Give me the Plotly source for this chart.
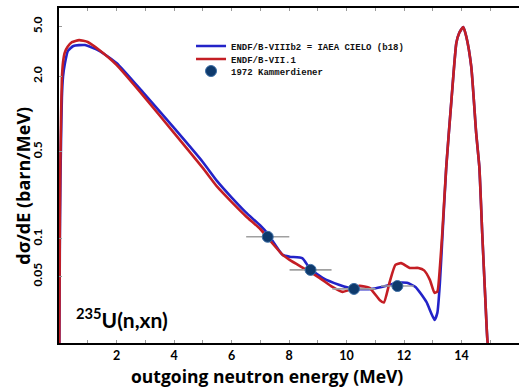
import plotly.graph_objects as go

# ENDF/B-VII.1 (red)
e_red = [0.01, 0.03, 0.05, 0.07, 0.1, 0.14, 0.2, 0.3, 0.45, 0.7, 1.0, 1.4, 2.0, 3.0, 4.0, 5.0, 5.5,
         6.0, 6.5, 7.0, 7.26, 7.78, 8.02, 8.61, 9.06, 9.51, 9.86, 10.1, 10.45, 10.8, 11.15, 11.3, 11.5,
         11.7, 11.9, 12.2, 12.5, 12.7, 12.9, 13.06, 13.16, 13.25, 13.33, 13.47, 13.65, 13.82, 13.92,
         14.06, 14.17, 14.34, 14.51, 14.62, 14.72, 14.83, 14.9, 15.0]
v_red = [0.012, 0.15, 0.45, 0.9, 1.9, 2.6, 3.1, 3.45, 3.75, 3.9, 3.77, 3.25, 2.47, 1.34, 0.705, 0.37,
         0.262, 0.198, 0.152, 0.12, 0.102, 0.0745, 0.068, 0.0565, 0.0488, 0.0413, 0.0377, 0.0391,
         0.0421, 0.0406, 0.0325, 0.031, 0.045, 0.062, 0.064, 0.0586, 0.0586, 0.056, 0.047, 0.037,
         0.038, 0.06, 0.11, 0.377, 1.29, 3.70, 4.45, 4.97, 4.13, 2.38, 0.705, 0.377, 0.112, 0.0325,
         0.0156, 0.01]

# ENDF/B-VIIIb2 = IAEA CIELO (blue)
e_blue = [0.01, 0.03, 0.05, 0.07, 0.1, 0.14, 0.2, 0.31, 0.5, 0.9, 1.4, 2.0, 3.0, 4.0, 5.0, 5.5, 6.0,
          6.5, 7.0, 7.26, 7.78, 8.02, 8.47, 8.72, 9.17, 9.76, 10.26, 10.9, 11.39, 11.74, 12.1, 12.4,
          12.78, 13.06, 13.16, 13.25, 13.33, 13.47, 13.65, 13.82, 13.92, 14.06, 14.17, 14.34, 14.51,
          14.62, 14.72, 14.83, 14.9, 15.0]
v_blue = [0.012, 0.1, 0.3, 0.6, 1.35, 2.0, 2.5, 3.2, 3.5, 3.56, 3.2, 2.56, 1.42, 0.773, 0.413, 0.29,
          0.215, 0.163, 0.128, 0.11, 0.0745, 0.072, 0.070, 0.058, 0.0488, 0.0428, 0.0398, 0.0398,
          0.0421, 0.0445, 0.0445, 0.0413, 0.0313, 0.0225, 0.0256, 0.045, 0.098, 0.377, 1.29, 3.70,
          4.45, 4.97, 4.13, 2.38, 0.705, 0.377, 0.112, 0.0325, 0.0156, 0.01]

# 1972 Kammerdiener
e_exp = [7.26, 8.75, 10.26, 11.77]
v_exp = [0.104, 0.0565, 0.0398, 0.042]
de_exp = [0.75, 0.73, 0.75, 0.57]

x_tickvals = [2, 4, 6, 8, 10, 12, 14]
x_minorvals = [1, 3, 5, 7, 9, 11, 13, 15]
y_tickvals = [0.05, 0.1, 0.5, 2, 5]
y_ticktext = ["0.05", "0.1", "0.5", "2.0", "5.0"]

BLUE = "#2323c8"
RED = "#c41e24"

fig = go.Figure()
fig.add_trace(go.Scatter(x=e_blue, y=v_blue, mode="lines", name="ENDF/B-VIIIb2 = IAEA CIELO (b18)",
                         line=dict(color=BLUE, width=2.6, shape="spline", smoothing=0.5),
                         legend="legend"))
fig.add_trace(go.Scatter(x=e_red, y=v_red, mode="lines", name="ENDF/B-VII.1",
                         line=dict(color=RED, width=2.6, shape="spline", smoothing=0.5),
                         legend="legend2"))
fig.add_trace(go.Scatter(x=e_exp, y=v_exp, mode="markers", name="1972 Kammerdiener",
                         marker=dict(color="#0e3a6c", size=11, line=dict(color="#3d6fa6", width=1)),
                         error_x=dict(type="data", array=de_exp, color="#a0a0a0", thickness=1.6, width=0),
                         legend="legend3"))

legfont = dict(family="Liberation Mono", size=9, color="#111", weight="bold")
common = dict(x=0.287, xanchor="left", yanchor="middle", bgcolor="rgba(0,0,0,0)",
              borderwidth=0, font=legfont)
fig.update_layout(
    width=520, height=392,
    margin=dict(l=59, r=1, t=8, b=49),
    paper_bgcolor="white", plot_bgcolor="white",
    showlegend=True,
    legend=dict(y=0.8866, **common),
    legend2=dict(y=0.8478, **common),
    legend3=dict(y=0.8119, **common),
    xaxis=dict(range=[0, 16], tickmode="array", tickvals=x_tickvals,
               ticks="inside", ticklen=3, tickcolor="#999", showline=True, linecolor="black",
               linewidth=1.5, mirror="ticks", showgrid=False, zeroline=False,
               minor=dict(tickvals=x_minorvals, ticks="inside", ticklen=3, tickcolor="#999",
                          showgrid=False),
               tickfont=dict(family="Lato", size=12.5, color="black", weight="bold")),
    yaxis=dict(type="log", range=[-1.833, 0.848], tickmode="array", tickvals=y_tickvals,
               ticktext=y_ticktext, tickangle=-90, ticks="inside", ticklen=3, tickcolor="#999",
               showline=True, linecolor="black", linewidth=1.5, showgrid=False, zeroline=False,
               ticklabelstandoff=10,
               tickfont=dict(family="Lato", size=12, color="black", weight="bold")),
    annotations=[
        dict(text="<b>outgoing neutron energy (MeV)</b>", xref="paper", yref="paper",
             x=0.452, y=-0.0985, showarrow=False,
             font=dict(family="Open Sans", size=17.5, color="black"),
             xanchor="center", yanchor="middle"),
        dict(text="<b>dσ/dE (barn/MeV)</b>", xref="paper", yref="paper", x=-0.08, y=0.47,
             textangle=-90, showarrow=False, font=dict(family="Open Sans", size=18, color="black"),
             xanchor="center", yanchor="middle"),
        dict(text="<b><sup>235</sup>U(n,xn)</b>", xref="paper", yref="paper", x=0.032, y=0.075,
             showarrow=False, font=dict(family="Lato", size=21, color="black"),
             xanchor="left", yanchor="middle"),
    ],
)

fig.write_html("out.html")
